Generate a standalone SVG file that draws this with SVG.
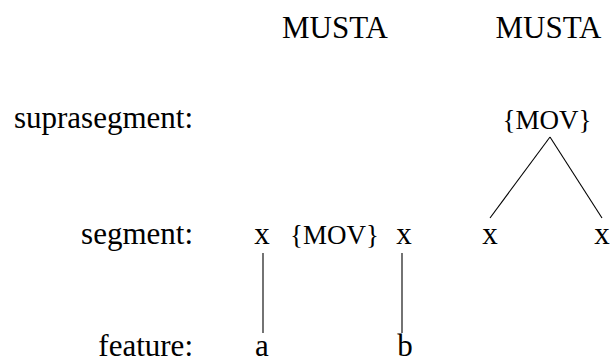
<svg xmlns="http://www.w3.org/2000/svg" width="610" height="361" viewBox="0 0 610 361">
<style>
text{font-family:'Liberation Serif','Times New Roman',Times,'DejaVu Serif',serif;fill:#000;}
.t{font-size:31px;}
.lab{font-size:31px;text-anchor:end;}
.c{text-anchor:middle;}
.m{font-size:27px;text-anchor:middle;}
.ln{stroke:#000;stroke-width:1.1;fill:none;}
</style>
<rect width="610" height="361" fill="#fff"/>
<g id="labels">
<text class="lab" x="193" y="128" font-family="Liberation Serif, serif">suprasegment:</text>
<text class="lab" x="193" y="244" font-family="Liberation Serif, serif">segment:</text>
<text class="lab" x="193" y="356" font-family="Liberation Serif, serif">feature:</text>
</g>
<g id="musta1"><text class="t c" x="335" y="38">MUSTA</text></g>
<g id="musta2"><text class="t c" x="548.5" y="38">MUSTA</text></g>
<g id="mov-supra"><text class="m" x="547" y="129">{MOV}</text></g>
<g id="x1"><text class="t c" x="262" y="244">x</text></g>
<g id="mov-seg"><text class="m" x="334.5" y="244">{MOV}</text></g>
<g id="x2"><text class="t c" x="404" y="244">x</text></g>
<g id="x3"><text class="t c" x="490" y="244">x</text></g>
<g id="x4"><text class="t c" x="602" y="244">x</text></g>
<g id="fa"><text class="t c" x="262" y="356">a</text></g>
<g id="fb"><text class="t c" x="405" y="356">b</text></g>
<g id="connectors">
<line class="ln" x1="263" y1="253" x2="263" y2="333"/>
<line class="ln" x1="402" y1="253" x2="402" y2="333"/>
<line class="ln" x1="550" y1="137" x2="490" y2="218"/>
<line class="ln" x1="550" y1="137" x2="602" y2="218"/>
</g>
</svg>
